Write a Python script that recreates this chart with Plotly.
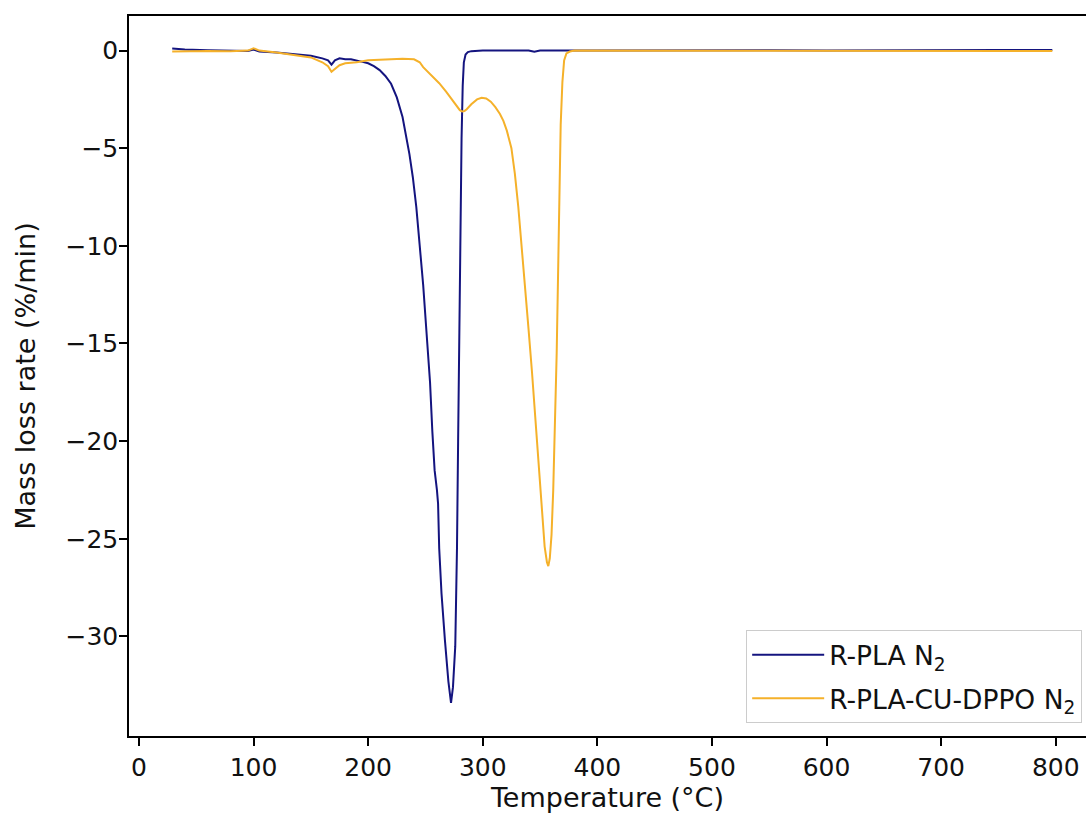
import plotly.graph_objects as go

# R-PLA N2
temp_pla = [29, 40, 60, 80, 95, 100, 105, 120, 140, 150, 160, 165, 168, 171, 175, 180, 185, 190,
            195, 200, 205, 210, 215, 220, 225, 230, 233, 236, 239, 242, 245, 248, 251, 254, 256,
            258, 260, 261, 262, 264, 267, 270, 272.3, 274, 276, 277.5, 278.5, 279.5, 280.5, 281.5,
            282.5, 283.5, 285, 287, 290, 300, 320, 340, 345, 350, 400, 450, 500, 550, 600, 650,
            700, 750, 797]
rate_pla = [0.1, 0.05, 0.02, 0.0, -0.02, 0.05, -0.05, -0.1, -0.2, -0.27, -0.4, -0.5, -0.72, -0.5,
            -0.4, -0.45, -0.45, -0.5, -0.58, -0.65, -0.8, -1.0, -1.3, -1.7, -2.4, -3.4, -4.3, -5.3,
            -6.5, -8.0, -10.0, -12.0, -14.5, -17.0, -19.5, -21.5, -22.5, -23.2, -25.5, -27.8,
            -30.2, -32.3, -33.4, -32.6, -30.5, -25.5, -20.0, -14.0, -8.5, -4.5, -1.8, -0.6, -0.2,
            -0.08, -0.03, 0.0, 0.0, 0.0, -0.06, 0.0, 0.0, 0.01, 0.0, 0.02, 0.0, 0.02, 0.01, 0.03,
            0.03]

# R-PLA-CU-DPPO N2
temp_dppo = [29, 40, 60, 80, 95, 100, 105, 120, 140, 150, 160, 165, 168, 171, 175, 180, 190, 200,
             210, 220, 230, 240, 245, 248, 255, 262, 268, 274, 278, 280, 282, 284, 286, 290, 295,
             299, 303, 307, 311, 315, 318, 321, 325, 328, 331, 334, 337, 340, 343, 346, 348, 350,
             352, 354, 356, 357.2, 358.5, 360, 361.5, 363, 364.5, 366, 367, 368, 369.5, 371, 373,
             376, 380, 400, 450, 500, 550, 600, 650, 700, 750, 797]
rate_dppo = [-0.05, -0.03, -0.02, -0.03, 0.0, 0.12, 0.0, -0.1, -0.25, -0.35, -0.6, -0.8, -1.08,
             -0.95, -0.75, -0.65, -0.6, -0.5, -0.48, -0.45, -0.42, -0.45, -0.6, -0.85, -1.25,
             -1.67, -2.1, -2.55, -2.9, -3.05, -3.12, -3.1, -3.0, -2.75, -2.5, -2.42, -2.45, -2.62,
             -2.9, -3.25, -3.6, -4.1, -5.0, -6.3, -8.0, -10.0, -12.0, -14.3, -16.5, -19.0, -20.5,
             -22.0, -24.0, -25.4, -26.2, -26.4, -26.0, -24.8, -22.5, -19.5, -15.5, -10.5, -6.5,
             -3.8, -1.6, -0.5, -0.15, -0.05, 0.0, 0.0, -0.02, -0.01, -0.02, 0.0, -0.01, 0.0, 0.0,
             -0.02]

x_ticks = [0, 100, 200, 300, 400, 500, 600, 700, 800]
y_ticks = [0, -5, -10, -15, -20, -25, -30]

FONT = "DejaVu Sans"
TICK_FS = 25
TITLE_FS = 27
LEG_FS = 26.5
TXT = "#111"

fig = go.Figure()
fig.add_trace(go.Scatter(x=temp_pla, y=rate_pla, mode="lines", name="R-PLA N<sub>2</sub>",
                         legendgroup="a", line=dict(color="#14147f", width=2)))
fig.add_trace(go.Scatter(x=temp_dppo, y=rate_dppo, mode="lines", name="R-PLA-CU-DPPO N<sub>2</sub>",
                         legendgroup="b", line=dict(color="#f5b12a", width=2)))

axis_common = dict(showgrid=False, zeroline=False, showline=True, linecolor="black", linewidth=1.5,
                   ticks="outside", ticklen=8, tickwidth=1.5, tickcolor="black",
                   tickfont=dict(family=FONT, size=TICK_FS, color=TXT))

fig.update_xaxes(range=[-8.7, 826.4], tickvals=x_ticks, ticktext=[str(v) for v in x_ticks],
                 mirror=True,
                 title=dict(text="Temperature (°C)", font=dict(family=FONT, size=TITLE_FS, color=TXT),
                            standoff=4),
                 **axis_common)
fig.update_yaxes(range=[-35.1, 1.77], tickvals=y_ticks,
                 ticktext=["0" if v == 0 else "\u2212" + str(-v) for v in y_ticks],
                 mirror=False,
                 title=dict(text="Mass loss rate (%/min)", font=dict(family=FONT, size=TITLE_FS, color=TXT),
                            standoff=22),
                 ticklabelstandoff=-4,
                 **axis_common)

fig.update_layout(
    width=1086, height=820,
    margin=dict(l=129, r=0, t=16, b=84),
    plot_bgcolor="white", paper_bgcolor="white",
    font=dict(family=FONT, size=TICK_FS, color=TXT),
    showlegend=True,
    legend=dict(x=0.996, y=0.018, xanchor="right", yanchor="bottom",
                bgcolor="rgba(255,255,255,0.85)", bordercolor="#cccccc", borderwidth=1,
                font=dict(family=FONT, size=LEG_FS, color=TXT), itemwidth=72,
                tracegroupgap=6),
)

fig.write_html("out.html")
